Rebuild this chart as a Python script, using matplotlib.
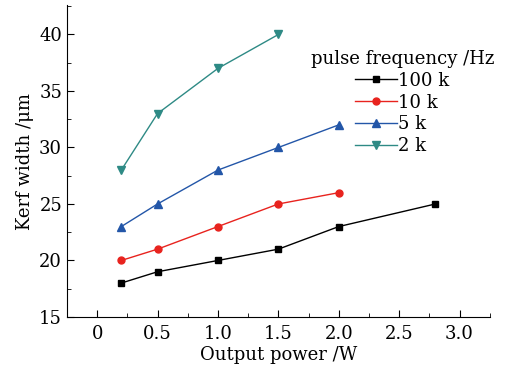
import matplotlib
matplotlib.use("Agg")
import matplotlib.pyplot as plt
from matplotlib.ticker import MultipleLocator

plt.rcParams['font.family'] = ['DejaVu Serif']
plt.rcParams['mathtext.fontset'] = 'dejavuserif'

power_100k = [0.2, 0.5, 1.0, 1.5, 2.0, 2.8]
kerf_100k = [18, 19, 20, 21, 23, 25]
power_10k = [0.2, 0.5, 1.0, 1.5, 2.0]
kerf_10k = [20, 21, 23, 25, 26]
power_5k = [0.2, 0.5, 1.0, 1.5, 2.0]
kerf_5k = [23, 25, 28, 30, 32]
power_2k = [0.2, 0.5, 1.0, 1.5]
kerf_2k = [28, 33, 37, 40]

fig = plt.figure(figsize=(5.07, 3.66), dpi=100)
ax = fig.add_axes([0.132, 0.134, 0.834, 0.852])

ax.plot(power_100k, kerf_100k, color='black', lw=1, marker='s', ms=5, label='100 k')
ax.plot(power_10k, kerf_10k, color='#e8231e', lw=1, marker='o', ms=5, label='10 k')
ax.plot(power_5k, kerf_5k, color='#2356a8', lw=1, marker='^', ms=6, label='5 k')
ax.plot(power_2k, kerf_2k, color='#2e8a85', lw=1, marker='v', ms=6, label='2 k')

ax.set_xlim(-0.25, 3.25)
ax.set_ylim(15, 42.6)
ax.xaxis.set_minor_locator(MultipleLocator(0.25))
ax.yaxis.set_major_locator(MultipleLocator(5))
ax.yaxis.set_minor_locator(MultipleLocator(2.5))
ax.set_xticks([0, 0.5, 1.0, 1.5, 2.0, 2.5, 3.0])
ax.set_xticklabels(['0', '0.5', '1.0', '1.5', '2.0', '2.5', '3.0'])
ax.tick_params(which='both', direction='in', labelsize=13)
ax.tick_params(axis='x', pad=6)
ax.tick_params(which='major', length=5)
ax.tick_params(which='minor', length=3)
ax.spines['top'].set_visible(False)
ax.spines['right'].set_visible(False)

ax.set_xlabel('Output power /W', fontsize=13, labelpad=2)
ax.set_ylabel('Kerf width /μm', fontsize=13, labelpad=4)

leg = ax.legend(title='pulse frequency /Hz', frameon=False, fontsize=13, title_fontsize=13,
                loc='upper right', bbox_to_anchor=(1.04, 0.898), handlelength=2.3,
                handletextpad=0.1, labelspacing=0.22, borderpad=0.2)

fig.savefig('out.png', dpi=100)
